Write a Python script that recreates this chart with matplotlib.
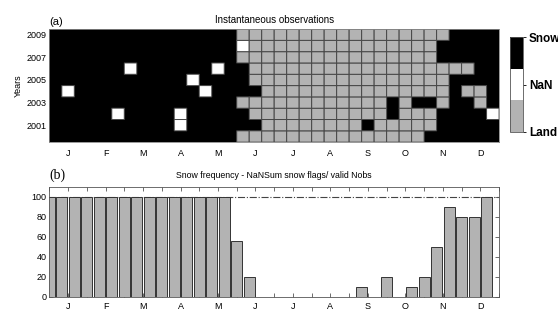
import matplotlib
matplotlib.use('Agg')
import matplotlib.pyplot as plt
import numpy as np
from matplotlib.colors import ListedColormap, BoundaryNorm, Normalize
from matplotlib.cm import ScalarMappable
from matplotlib.ticker import FixedLocator

plt.rcParams['font.family'] = ['Liberation Sans', 'DejaVu Sans']

# ---- data ----
years = [2009, 2008, 2007, 2006, 2005, 2004, 2003, 2002, 2001, 2000]
ytick_years = [2009, 2007, 2005, 2003, 2001]
months = ['J', 'F', 'M', 'A', 'M', 'J', 'J', 'A', 'S', 'O', 'N', 'D']
# S = snow, N = NaN, L = land ; 36 dekads per year, top row = 2009
grid_rows = [
    "SSSSSSSSSSSSSSS" + "LLLLLLLLLLLLLLLLL" + "SSSS",                 # 2009
    "SSSSSSSSSSSSSSS" + "N" + "LLLLLLLLLLLLLLL" + "SSSSS",            # 2008
    "SSSSSSSSSSSSSSS" + "LLLLLLLLLLLLLLLL" + "SSSSS",                 # 2007
    "SSSSSSNSSSSSSNSS" + "LLLLLLLLLLLLLLLLLL" + "SS",                 # 2006
    "SSSSSSSSSSSNSSSS" + "LLLLLLLLLLLLLLLL" + "SSSS",                 # 2005
    "SNSSSSSSSSSSNSSSS" + "LLLLLLLLLLLLLLL" + "S" + "LL" + "S",       # 2004
    "SSSSSSSSSSSSSSS" + "LLLLLLLLLLLL" + "S" + "L" + "SS" + "L" + "SS" + "L" + "S",  # 2003
    "SSSSSNSSSSNSSSSS" + "LLLLLLLLLLL" + "S" + "LLL" + "SSSS" + "N",  # 2002
    "SSSSSSSSSSNSSSSSS" + "LLLLLLLL" + "S" + "LLLLL" + "SSSSS",       # 2001
    "SSSSSSSSSSSSSSS" + "LLLLLLLLLLLLLLL" + "SSSSSS",                 # 2000
]
snow_freq = [100, 100, 100, 100, 100, 100, 100, 100, 100, 100, 100, 100,
             100, 100, 100, 55.6, 20, 0, 0, 0, 0, 0, 0, 0,
             0, 10, 0, 20, 0, 10, 20, 50, 90, 80, 80, 100]
class_labels = ['Land', 'NaN', 'Snow']

# ---- figure ----
grey = '#b3b3b3'
fig = plt.figure(figsize=(5.58, 3.09), dpi=100)

code = {'L': 0, 'N': 1, 'S': 2}
Z = np.array([[code[c] for c in r] for r in grid_rows])
nrow, ncol = Z.shape
Zp = Z[::-1]

ax1 = fig.add_axes([0.0884, 0.540, 0.806, 0.366])
cmap = ListedColormap([grey, 'white', 'black'])
norm = BoundaryNorm([-0.5, 0.5, 1.5, 2.5], 3)
xe = np.arange(ncol + 1)
ye = np.arange(nrow + 1)
ax1.pcolormesh(xe, ye, Zp, cmap=cmap, norm=norm, linewidth=0)
ax1.pcolor(xe, ye, np.ma.masked_equal(Zp, 2), cmap=cmap, norm=norm,
           edgecolors='#454545', linewidth=0.7)
ax1.set_xlim(0, ncol)
ax1.set_ylim(0, nrow)
ax1.set_yticks([years[::-1].index(y) + 0.5 for y in ytick_years])
ax1.set_yticklabels([str(y) for y in ytick_years])
ax1.set_xticks([1.5 + 3 * k for k in range(12)])
ax1.set_xticklabels(months)
ax1.tick_params(length=0, labelsize=6.5, pad=5)
ax1.tick_params(axis='y', pad=2)
ax1.set_ylabel('Years', fontsize=6.5, labelpad=3)
for s in ax1.spines.values():
    s.set_color('#888888')
    s.set_linewidth(0.6)
ax1.set_title('Instantaneous observations', fontsize=7, pad=4)
ax1.text(0.0, 1.02, '(a)', transform=ax1.transAxes, fontsize=8,
         ha='left', va='bottom')

# colorbar
cax = fig.add_axes([0.914, 0.574, 0.024, 0.305])
sm = ScalarMappable(norm=Normalize(0, 2), cmap=cmap)
cb = fig.colorbar(sm, cax=cax, ticks=[0, 1, 2])
cb.ax.set_yticklabels(class_labels, fontsize=8.5, fontweight='bold')
cb.ax.tick_params(length=2, width=0.6, pad=2)
cb.outline.set_linewidth(0.6)
cb.outline.set_edgecolor('#555555')

# bars
ax2 = fig.add_axes([0.0884, 0.040, 0.806, 0.356])
ax2.axhline(100, ls='-.', color='#444444', lw=0.8, zorder=1)
ax2.bar(np.arange(ncol), snow_freq, width=0.87, color=grey,
        edgecolor='#333333', linewidth=0.7, zorder=2)
ax2.set_xlim(0, ncol)
ax2.set_ylim(0, 110)
ax2.set_yticks(range(0, 101, 20))
ax2.set_xticks([1.5 + 3 * k for k in range(12)])
ax2.set_xticklabels(months)
ax2.xaxis.set_minor_locator(FixedLocator([3 * k for k in range(13)]))
ax2.tick_params(which='both', direction='in', top=True, right=True,
                length=3, width=0.6, color='#555555', labelsize=6.5)
ax2.tick_params(axis='x', pad=4)
ax2.tick_params(axis='y', pad=2)
for s in ax2.spines.values():
    s.set_color('#555555')
    s.set_linewidth(0.6)
ax2.set_title('Snow frequency - NaNSum snow flags/ valid Nobs', fontsize=6.3, pad=6)
ax2.text(0.0, 1.04, '(b)', transform=ax2.transAxes, fontsize=10,
         family=['Liberation Serif', 'DejaVu Serif'], ha='left', va='bottom')

fig.savefig('out.png', dpi=100)
